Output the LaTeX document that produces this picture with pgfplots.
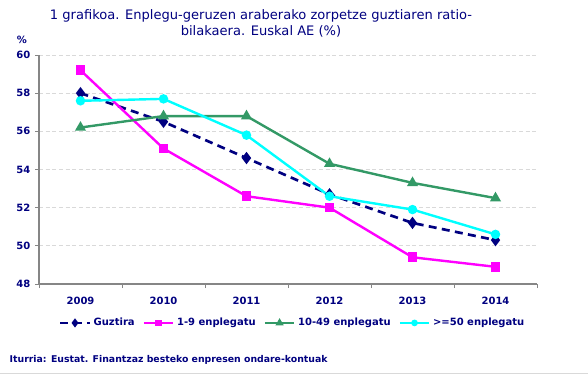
\documentclass[border=0pt]{standalone}
\usepackage{pgfplots}
\pgfplotsset{compat=1.18}
\usepackage{fontspec}
\setmainfont{DejaVu Sans}
\definecolor{navy}{RGB}{0,0,128}
\definecolor{mag}{RGB}{255,0,255}
\definecolor{sgreen}{RGB}{51,153,102}
\definecolor{cyn}{RGB}{0,255,255}
\definecolor{axgray}{RGB}{134,134,134}
\definecolor{gridgray}{RGB}{217,217,217}
\begin{document}
\begin{tikzpicture}[x=0.75pt,y=0.75pt]
\path[use as bounding box] (0,0) rectangle (588,375);
\draw[gridgray,line width=1.2pt] (0,1.5) -- (588,1.5);
\node[navy,font=\fontsize{9.8}{12}\selectfont,align=center] at (261,352) {1 grafikoa. Enplegu-geruzen araberako zorpetze guztiaren ratio-\\bilakaera. Euskal AE (\%)};
\node[navy,font=\fontsize{7.5}{9}\selectfont\bfseries] at (22,335) {\%};
\node[navy,font=\fontsize{7}{8}\selectfont\bfseries,anchor=west] at (5,15) {Iturria: Eustat. Finantzaz besteko enpresen ondare-kontuak};
\begin{axis}[
  at={(29.25pt,68.25pt)}, anchor=south west,
  scale only axis, width=373.5pt, height=171.75pt,
  xmin=-0.5, xmax=5.5, ymin=48, ymax=60,
  axis x line*=bottom, axis y line*=left,
  axis line style={axgray,line width=0.8pt},
  xtick={0,...,5}, xticklabels={2009,2010,2011,2012,2013,2014},
  minor xtick={-0.5,0.5,...,5.5},
  major x tick style={draw=none},
  minor x tick style={axgray,line width=0.6pt},
  minor tick length=3pt,
  ytick={48,50,...,60},
  y tick style={axgray,line width=0.6pt},
  major tick length=3pt,
  tick align=outside,
  ymajorgrids, grid style={gridgray,line width=0.6pt,dash pattern=on 3pt off 2pt},
  ticklabel style={navy,font=\fontsize{7.5}{9}\selectfont\bfseries},
  /pgf/number format/assume math mode=true,
  xticklabel style={yshift=-3pt},
  legend columns=4,
  legend style={at={(0.51,-0.17)},anchor=center,draw=none,fill=none,
    font=\fontsize{7.5}{9}\selectfont\bfseries,text=navy,
    /tikz/every even column/.append style={column sep=4pt}},
  legend image code/.code={\draw[#1] (0pt,0pt) -- (11pt,0pt) -- (22pt,0pt); \path[#1,solid,mark options={scale=0.6}] plot coordinates {(11pt,0pt)};},
]
\addplot[navy,line width=2pt,dash pattern=on 6pt off 4pt,mark=diamond*,mark size=3pt,mark options={solid}] coordinates {(0,58.0) (1,56.5) (2,54.6) (3,52.7) (4,51.2) (5,50.3)};
\addlegendentry{Guztira}
\addplot[mag,line width=1.8pt,mark=square*,mark size=2.7pt] coordinates {(0,59.2) (1,55.1) (2,52.6) (3,52.0) (4,49.4) (5,48.9)};
\addlegendentry{1-9 enplegatu}
\addplot[sgreen,line width=1.8pt,mark=triangle*,mark size=3pt] coordinates {(0,56.2) (1,56.8) (2,56.8) (3,54.3) (4,53.3) (5,52.5)};
\addlegendentry{10-49 enplegatu}
\addplot[cyn,line width=1.8pt,mark=*,mark size=2.6pt] coordinates {(0,57.6) (1,57.7) (2,55.8) (3,52.6) (4,51.9) (5,50.6)};
\addlegendentry{>=50 enplegatu}
\end{axis}
\end{tikzpicture}
\end{document}
